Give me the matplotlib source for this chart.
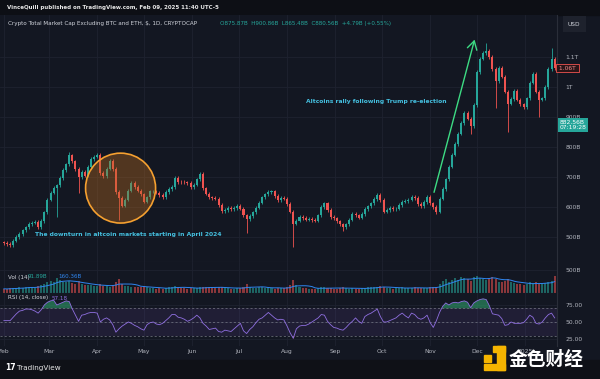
import numpy as np
import pandas as pd
import matplotlib

matplotlib.use("Agg")
import matplotlib.pyplot as plt
from matplotlib.patches import Ellipse, Rectangle

# ---- data (2-day candles from 2024-02-01) ----
START = pd.Timestamp("2024-02-01")
STEP = 2  # days per candle

closes = [
    480, 476, 473, 488, 500, 511, 522, 532, 543, 548,
    550, 533, 553, 582, 625, 648, 663, 672, 697, 723,
    742, 772, 752, 727, 700, 718, 705, 735, 760, 768,
    773, 713, 702, 728, 755, 727, 650, 630, 605, 625,
    655, 680, 667, 655, 642, 618, 632, 652, 652, 648,
    640, 633, 650, 660, 667, 698, 684, 683, 682, 680,
    667, 675, 692, 710, 662, 645, 632, 630, 628, 607,
    586, 590, 597, 592, 597, 605, 595, 572, 560, 570,
    582, 598, 615, 632, 642, 650, 652, 636, 623, 630,
    628, 610, 585, 545, 555, 568, 564, 558, 560, 556,
    555, 572, 600, 612, 590, 567, 562, 552, 542, 532,
    542, 558, 576, 572, 565, 577, 593, 602, 612, 627,
    640, 623, 585, 590, 598, 592, 595, 606, 618, 620,
    625, 635, 630, 610, 602, 617, 635, 612, 600, 585,
    628, 660, 692, 735, 775, 810, 845, 880, 915, 895,
    870, 940, 1050, 1095, 1113, 1120, 1100, 1060, 1020, 1065,
    1035, 985, 945, 960, 988, 958, 942, 933, 962, 1015,
    1045, 985, 958, 962, 1000, 1060, 1095, 1063,
]
first_open = 482
low_spikes = {17: 567, 24: 647, 37: 557, 78: 513, 93: 467, 109: 520,
              139: 578, 150: 845, 158: 930, 162: 850, 172: 900}
high_spikes = {21: 785, 155: 1147, 176: 1130}

volume = [
    90, 85, 100, 110, 105, 120, 115, 130, 140, 120, 110, 150, 170, 200, 230,
    260, 240, 330, 280, 250, 240, 260, 220, 200, 260, 190, 170, 180, 170, 160,
    150, 190, 160, 150, 140, 180, 240, 300, 200, 160, 150, 130, 120, 140, 130,
    150, 120, 110, 100, 95, 100, 90, 110, 130, 140, 150, 120, 110, 100, 95,
    100, 105, 110, 120, 140, 130, 120, 110, 100, 120, 140, 110, 100, 95, 90,
    100, 110, 140, 190, 140, 110, 100, 120, 130, 110, 120, 100, 95, 110, 100,
    105, 130, 180, 280, 170, 130, 110, 100, 90, 95, 85, 100, 130, 120, 110,
    100, 95, 90, 110, 120, 100, 95, 105, 90, 85, 100, 115, 120, 125, 130,
    140, 150, 130, 110, 100, 95, 100, 110, 120, 115, 105, 110, 120, 110, 100,
    105, 110, 130, 140, 130, 200, 260, 300, 250, 280, 320, 290, 350, 330, 300,
    260, 340, 380, 320, 300, 290, 330, 360, 300, 250, 240, 260, 300, 240, 210,
    200, 190, 180, 200, 230, 210, 240, 200, 190, 220, 250, 260, 380,
]

rsi = [
    52, 52, 52, 57, 62, 66, 67, 69, 69, 68,
    66, 63, 68, 75, 79, 81, 82, 75, 77, 79,
    81, 80, 69, 60, 51, 60, 61, 63, 64, 64,
    63, 50, 54, 56, 53, 46, 35, 40, 44, 47,
    50, 48, 45, 43, 40, 38, 46, 49, 50, 47,
    46, 48, 52, 56, 61, 61, 57, 56, 54, 51,
    53, 56, 60, 56, 48, 44, 39, 40, 41, 36,
    35, 38, 37, 36, 40, 44, 48, 37, 33, 39,
    43, 49, 54, 56, 60, 64, 60, 56, 53, 54,
    53, 44, 34, 26, 40, 44, 45, 45, 47, 50,
    53, 56, 61, 60, 51, 46, 42, 41, 39, 38,
    42, 47, 51, 56, 51, 48, 58, 61, 63, 66,
    69, 58, 50, 50, 52, 54, 56, 60, 63, 59,
    56, 63, 61, 56, 54, 56, 60, 49, 42, 52,
    64, 73, 78, 75, 78, 79, 78, 80, 81, 79,
    71, 78, 81, 83, 84, 83, 74, 62, 61, 60,
    55, 45, 46, 50, 48, 48, 48, 49, 54, 60,
    57, 48, 47, 50, 56, 61, 63, 56,
]

month_starts = ["2024-02-01", "2024-03-01", "2024-04-01", "2024-05-01", "2024-06-01",
                "2024-07-01", "2024-08-01", "2024-09-01", "2024-10-01", "2024-11-01",
                "2024-12-01", "2025-01-01"]
month_labels = ["Feb", "Mar", "Apr", "May", "Jun", "Jul", "Aug", "Sep", "Oct", "Nov", "Dec", "2025"]
price_ticks = [500, 600, 700, 800, 900, 1000, 1100]
price_labels = ["500B", "600B", "700B", "800B", "900B", "1T", "1.1T"]

# ---- style ----
W, H = 600, 379
BG = "#131722"
GRID = "#1e2230"
SEP = "#2a2e39"
TXT = "#b2b5be"
UP, DN = "#26a69a", "#ef5350"
NOTE = "#45c0e0"

closes = np.array(closes, dtype=float)
opens = np.concatenate([[first_open], closes[:-1]])
x = np.arange(len(closes)) * STEP
highs = np.maximum(opens, closes) + 6
lows = np.minimum(opens, closes) - 6
for k, v in low_spikes.items():
    lows[k] = v
for k, v in high_spikes.items():
    highs[k] = v
colors = np.where(closes >= opens, UP, DN)
month_pos = [(pd.Timestamp(m) - START).days for m in month_starts]
XLIM = (-2.5, 355.5)

fig = plt.figure(figsize=(W / 100, H / 100), dpi=100)
fig.patch.set_facecolor(BG)


def pane(y0, y1):
    a = fig.add_axes([0, 1 - y1 / H, 557 / W, (y1 - y0) / H])
    a.set_facecolor(BG)
    a.set_xlim(*XLIM)
    a.set_xticks(month_pos)
    a.grid(True, color=GRID, lw=0.6)
    a.set_axisbelow(True)
    for s in a.spines.values():
        s.set_visible(False)
    a.spines["right"].set_visible(True)
    a.spines["right"].set_color(SEP)
    a.spines["bottom"].set_visible(True)
    a.spines["bottom"].set_color(SEP)
    a.spines["right"].set_linewidth(0.8)
    a.spines["bottom"].set_linewidth(0.8)
    a.yaxis.tick_right()
    a.tick_params(axis="y", length=0, pad=6, labelsize=4.3, labelcolor=TXT)
    a.tick_params(axis="x", length=0, labelbottom=False)
    return a


def ftext(px, py, s, **kw):
    fig.text(px / W, 1 - py / H, s, **kw)


# header band and bottom strip
fig.add_artist(Rectangle((0, 1 - 15 / H), 1, 15 / H, transform=fig.transFigure,
                         color="#0d0f15", zorder=0))
fig.add_artist(Rectangle((0, 0), 1, 19 / H, transform=fig.transFigure,
                         color="#0f1117", zorder=0))

# ---- main price pane ----
ax = pane(15, 262)
ax.set_ylim(416.7, 1240)
ax.set_yticks(price_ticks)
ax.set_yticklabels(price_labels)
ax.vlines(x, lows, highs, colors=colors, lw=0.6, zorder=2)
ax.bar(x, np.maximum(np.abs(closes - opens), 2), bottom=np.minimum(opens, closes),
       width=1.3, color=colors, zorder=3)

ax.add_patch(Ellipse((75, 663), 45, 233, facecolor=(0.72, 0.42, 0.12, 0.38),
                     edgecolor="#f5a030", lw=1.2, zorder=4))
ax.text(20, 507, "The downturn in altcoin markets starting in April 2024", color=NOTE,
        fontsize=4.3, fontweight="bold", va="center", ha="left", zorder=5)
ax.text(194, 953, "Altcoins rally following Trump re-election", color=NOTE,
        fontsize=4.3, fontweight="bold", va="center", ha="left", zorder=5)
ax.annotate("", xy=(303, 1167), xytext=(276, 640),
            arrowprops=dict(arrowstyle="->,head_length=0.6,head_width=0.35",
                            color="#3ddc84", lw=1.0), zorder=5)

ax.text(1.0, 1063, " 1.06T ", transform=ax.get_yaxis_transform(), color="#f28b8b",
        fontsize=4.3, va="center", ha="left",
        bbox=dict(boxstyle="square,pad=0.25", fc="#2a1518", ec=DN, lw=0.6), clip_on=False)
ax.annotate("882.56B\n07:19:28", xy=(1.0, 882.56), xycoords=ax.get_yaxis_transform(),
            xytext=(2, -2), textcoords="offset points", color="white", fontsize=4.3,
            va="center", ha="left", linespacing=1.1,
            bbox=dict(boxstyle="square,pad=0.3", fc=UP, ec="none"), annotation_clip=False)

# ---- volume pane ----
vax = pane(262, 293)
vax.set_ylim(-2, 680)
vax.set_yticks([500])
vax.set_yticklabels(["500B"])
vax.bar(x, volume, width=1.3, color=colors, alpha=0.55, zorder=2)
vol_ma = pd.Series(volume, dtype=float).rolling(7, min_periods=1).mean()
vax.plot(x, vol_ma, color="#2f86f0", lw=0.7, zorder=3)

# ---- RSI pane ----
rax = pane(293, 346)
rax.set_ylim(14.7, 92.6)
rax.set_yticks([25, 50, 75])
rax.set_yticklabels(["25.00", "50.00", "75.00"])
rax.axhspan(30, 70, color="#7e57c2", alpha=0.12, lw=0)
for lvl in (30, 50, 70):
    rax.axhline(lvl, color="#787b86", lw=0.5, ls=(0, (3, 3)))
rsi = np.array(rsi, dtype=float)
rax.fill_between(x, rsi, 70, where=rsi > 70, interpolate=True, color="#2e9e6a", alpha=0.6, lw=0)
rax.fill_between(x, rsi, 30, where=rsi < 30, interpolate=True, color=DN, alpha=0.4, lw=0)
rax.plot(x, rsi, color="#8f6fe0", lw=0.6)
rax.spines["bottom"].set_visible(False)
rax.tick_params(axis="x", labelbottom=True, labelsize=4.3, labelcolor=TXT, pad=2.5)
rax.set_xticklabels(month_labels)

# ---- header / legend texts ----
ftext(7, 8, "VinceQuill published on TradingView.com, Feb 09, 2025 11:40 UTC-5",
      color="#e6e6e6", fontsize=4.0, fontweight="bold", va="center")
ftext(8, 24, "Crypto Total Market Cap Excluding BTC and ETH, $, 1D, CRYPTOCAP",
      color="#d1d4dc", fontsize=4.1, va="center")
ftext(220, 24, "O875.87B  H900.86B  L865.48B  C880.56B  +4.79B (+0.55%)",
      color=UP, fontsize=4.1, va="center")
ftext(568, 24, "USD", color="#d1d4dc", fontsize=4.2, va="center",
      bbox=dict(boxstyle="square,pad=0.9", fc="#1e222d", ec="none"))
ftext(8, 277, "Vol (14)", color="#d1d4dc", fontsize=4.1, va="center")
ftext(28, 277, "91.89B", color=UP, fontsize=4.1, va="center")
ftext(58, 277, "160.36B", color="#2f86f0", fontsize=4.1, va="center")
ftext(8, 298, "RSI (14, close)", color="#d1d4dc", fontsize=4.1, va="center")
ftext(52, 298, "57.18", color="#8f6fe0", fontsize=4.1, va="center")

# TradingView logo
ftext(5, 368, "17", color="white", fontsize=5.5, fontweight="bold", va="center")
ftext(17, 368, "TradingView", color="#e6e6e6", fontsize=5.2, va="center")

# watermark
for (x0, y0, x1, y1) in [(484, 355, 491, 362), (497, 346, 505, 370), (484, 364, 505, 370),
                         (493, 346, 505, 352)]:
    fig.add_artist(Rectangle((x0 / W, 1 - y1 / H), (x1 - x0) / W, (y1 - y0) / H,
                             transform=fig.transFigure, color="#f5b400", zorder=10))
ftext(509, 359, "金色财经", color="white", fontsize=13.5, fontweight="bold", va="center",
      family=["Noto Sans CJK SC", "DejaVu Sans"], zorder=10)

fig.savefig("out.png", dpi=100, facecolor=BG)
